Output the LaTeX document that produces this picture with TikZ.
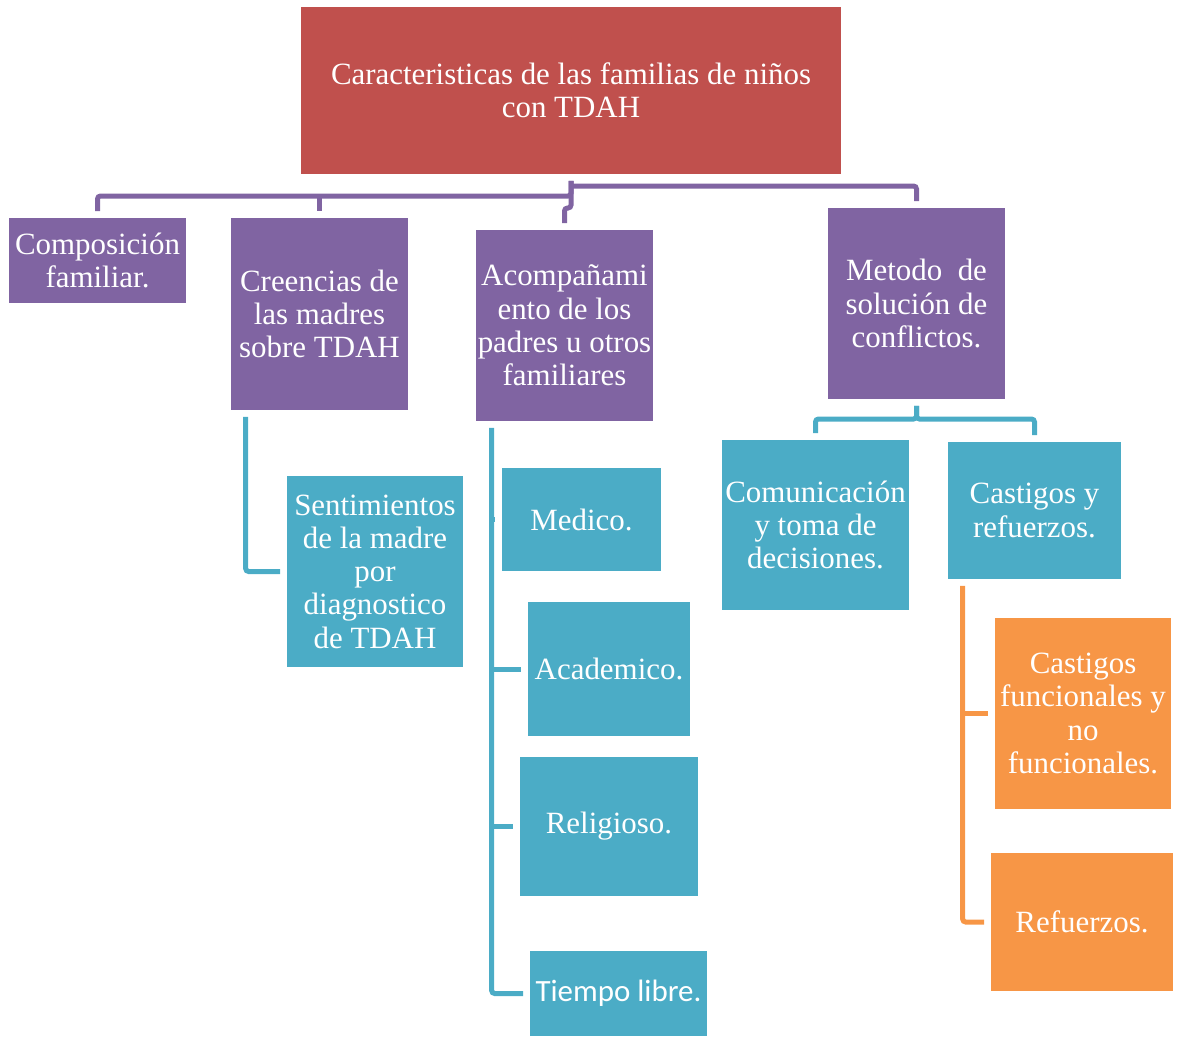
\documentclass[tikz,border=0pt]{standalone}
\usepackage{fontspec}
\setmainfont{Liberation Serif}
\newfontfamily\calibri{Carlito}
\usepackage{tikz}
\usetikzlibrary{positioning}

\definecolor{rojo}{HTML}{C0504D}
\definecolor{morado}{HTML}{8064A2}
\definecolor{celeste}{HTML}{4BACC6}
\definecolor{naranja}{HTML}{F79646}

\begin{document}
\begin{tikzpicture}[x=0.02cm,y=-0.02cm,
  caja/.style={rectangle,inner sep=0pt,text=white,align=center,
    font=\fontsize{17.6}{18.9}\selectfont},
  linea/.style={line width=0.1cm,rounded corners=0.06cm,
    shorten <=0.13cm,shorten >=0.13cm}]
  \useasboundingbox (0,0) rectangle (1182,1036);
  % cajas
  \node[caja,fill=rojo,minimum width=10.8cm,minimum height=3.34cm] (titulo) at (571,90.5)
    {Caracteristicas de las familias de niños\\con TDAH};
  \node[caja,fill=morado,minimum width=3.54cm,minimum height=1.7cm] (comp) at (97.5,260.5)
    {Composición\\familiar.};
  \node[caja,fill=morado,minimum width=3.54cm,minimum height=3.84cm] (creen) at (319.5,314)
    {Creencias de\\las madres\\sobre TDAH};
  \node[caja,fill=morado,minimum width=3.54cm,minimum height=3.82cm] (acomp) at (564.5,325.5)
    {Acompañami\\ento de los\\padres u otros\\familiares};
  \node[caja,fill=morado,minimum width=3.54cm,minimum height=3.82cm] (metodo) at (916.5,303.5)
    {Metodo~ de\\solución de\\conflictos.};
  \node[caja,fill=celeste,minimum width=3.52cm,minimum height=3.82cm] (senti) at (375,571.5)
    {Sentimientos\\de la madre\\por\\diagnostico\\de TDAH};
  \node[caja,fill=celeste,minimum width=3.18cm,minimum height=2.06cm] (medico) at (581.5,519.5)
    {Medico.};
  \node[caja,fill=celeste,minimum width=3.24cm,minimum height=2.68cm] (acad) at (609,669)
    {Academico.};
  \node[caja,fill=celeste,minimum width=3.56cm,minimum height=2.78cm] (relig) at (609,826.5)
    {Religioso.};
  \node[caja,fill=celeste,minimum width=3.54cm,minimum height=1.7cm,
    font=\calibri\fontsize{17.6}{18.9}\selectfont] (tiempo) at (618.5,993.5)
    {Tiempo libre.};
  \node[caja,fill=celeste,minimum width=3.74cm,minimum height=3.4cm] (comun) at (815.5,525)
    {Comunicación\\y toma de\\decisiones.};
  \node[caja,fill=celeste,minimum width=3.46cm,minimum height=2.74cm] (castref) at (1034.5,510.5)
    {Castigos y\\refuerzos.};
  \node[caja,fill=naranja,minimum width=3.52cm,minimum height=3.82cm] (castfun) at (1083,713.5)
    {Castigos\\funcionales y\\no\\funcionales.};
  \node[caja,fill=naranja,minimum width=3.64cm,minimum height=2.76cm] (refue) at (1082,922)
    {Refuerzos.};

  % conectores del titulo
  \coordinate (nudo) at (571,196);
  \draw[linea,morado] (titulo.south) -- (nudo) -| (comp.north);
  \draw[linea,morado,shorten <=0pt] (nudo -| creen.north) -- (creen.north);
  \draw[linea,morado] (titulo.south) -- (571,208) -| (acomp.north);
  \draw[linea,morado,shorten <=0pt] (571,186) -| (metodo.north);

  % ramas celestes
  \draw[linea,celeste] (metodo.south) -- (916.5,419) -| (comun.north);
  \draw[linea,celeste] (metodo.south) -- (916.5,419) -| (castref.north);
  \draw[linea,celeste] ([xshift=0.3cm]creen.south west) |- (senti.west);
  \coordinate (eje) at ([xshift=0.32cm]acomp.south west);
  \draw[linea,celeste] (eje) |- (tiempo.west);
  \foreach \n in {medico,acad,relig}
    \draw[linea,celeste,shorten <=0pt] (eje |- \n.west) -- (\n.west);

  % ramas naranjas
  \coordinate (ejeB) at ([xshift=0.3cm]castref.south west);
  \draw[linea,naranja] (ejeB) |- (refue.west);
  \draw[linea,naranja,shorten <=0pt] (ejeB |- castfun.west) -- (castfun.west);
\end{tikzpicture}
\end{document}
